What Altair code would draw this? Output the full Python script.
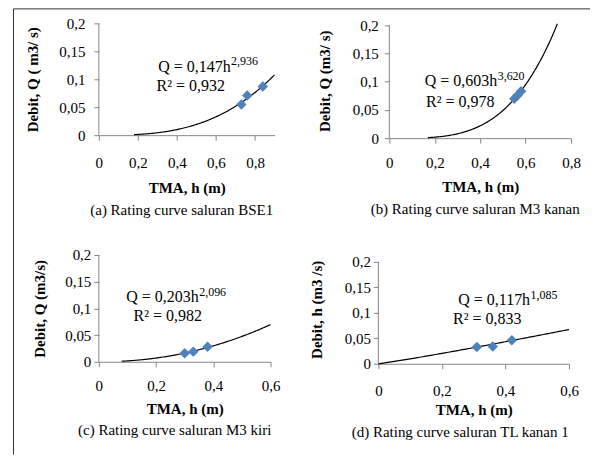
import altair as alt
import pandas as pd

FONT = "Liberation Serif"
BLUE = "#4F81BD"
AXIS_GRAY = "#868686"

# ---- data ----
a_h = [0.73, 0.76, 0.84]
a_q = [0.055, 0.071, 0.087]
b_h = [0.55, 0.565, 0.58]
b_q = [0.070, 0.076, 0.083]
c_h = [0.30, 0.33, 0.38]
c_q = [0.016, 0.019, 0.028]
d_h = [0.31, 0.36, 0.42]
d_q = [0.033, 0.034, 0.046]

coef = [0.147, 0.603, 0.203, 0.117]
expo = [2.936, 3.620, 2.096, 1.085]
curve_start = [0.18, 0.17, 0.08, 0.0]
curve_end = [0.90, 0.74, 0.60, 0.60]

eq_main = ["Q = 0,147h", "Q = 0,603h", "Q = 0,203h", "Q = 0,117h"]
eq_sup = ["2,936", "3,620", "2,096", "1,085"]
r2_text = ["R² = 0,932", "R² = 0,978", "R² = 0,982", "R² = 0,833"]

x_max = [0.9, 0.8, 0.6, 0.6]
x_ticks = [[0, 0.2, 0.4, 0.6, 0.8], [0, 0.2, 0.4, 0.6, 0.8],
           [0, 0.2, 0.4, 0.6], [0, 0.2, 0.4, 0.6]]
y_ticks = [0, 0.05, 0.1, 0.15, 0.2]
y_top = 0.2
y_titles = ["Debit, Q ( m3/ s)", "Debit, Q (m3/ s)", "Debit, Q (m3/s)", "Debit, h (m3 /s)"]
x_title = "TMA, h (m)"
captions = ["(a) Rating curve saluran BSE1", "(b) Rating curve saluran M3 kanan",
            "(c) Rating curve saluran M3 kiri", "(d) Rating curve saluran TL kanan 1"]

# ---- layout / style (pixels) ----
W = [176, 182, 172, 191]
Hgt = [112, 115, 107, 109]
y_dom_max = [0.2, 0.2035, 0.2, 0.2137]
x_label_pad = [15, 12, 12, 15]
x_title_pad = [10, 9, 8, 4]
y_label_pad = [9, 6, 3, 3]
y_title_pad = [18, 20, 17, 20]
cap_pos = [(83, 187), (86, 186), (76, 175), (82, 177)]  # caption center, relative to plot origin
eq_pos = [  # (Q right x, Q y, sup y, R2 center x, R2 y) relative to plot origin
    (132, 44, 38, 92, 63),
    (108, 58, 53, 71, 79),
    (100, 42, 37, 69, 61),
    (152, 45, 40, 109, 64),
]

LBL = "replace(toString(datum.value), '.', ',')"

pts_h = [a_h, b_h, c_h, d_h]
pts_q = [a_q, b_q, c_q, d_q]


def text_layer(s, x, y, size, align="center", weight="normal"):
    return alt.Chart(pd.DataFrame({"t": [s]})).mark_text(
        align=align, baseline="middle", font=FONT, fontSize=size, fontWeight=weight,
        color="black").encode(x=alt.value(x), y=alt.value(y), text="t:N")


def panel(i, frame=False):
    xs = alt.Scale(domain=[0, x_max[i]], nice=False, zero=True)
    ys = alt.Scale(domain=[0, y_dom_max[i]], nice=False, zero=True)
    X = alt.X("h:Q", scale=xs, title=x_title,
              axis=alt.Axis(values=x_ticks[i], labelExpr=LBL, labelPadding=x_label_pad[i],
                            titlePadding=x_title_pad[i], grid=False))
    Y = alt.Y("Q:Q", scale=ys, title=y_titles[i],
              axis=alt.Axis(values=y_ticks, labelExpr=LBL, labelPadding=y_label_pad[i],
                            titlePadding=y_title_pad[i], domain=False, grid=False))

    yline = alt.Chart(pd.DataFrame({"h": [0], "Q": [0], "Q2": [y_top]})).mark_rule(
        color=AXIS_GRAY, strokeWidth=1).encode(x=X, y=Y, y2="Q2:Q")

    curve = alt.Chart(alt.sequence(curve_start[i], curve_end[i] + 0.0025, 0.005, as_="h")).transform_calculate(
        Q=f"{coef[i]} * pow(datum.h, {expo[i]})"
    ).mark_line(color="black", strokeWidth=1.2).encode(x=X, y=Y)

    pts = alt.Chart(pd.DataFrame({"h": pts_h[i], "Q": pts_q[i]})).mark_point(
        shape="diamond", filled=True, size=110, color=BLUE, opacity=1).encode(x=X, y=Y)

    qx, qy, sy, rx, ry = eq_pos[i]
    cx, cy = cap_pos[i]
    layers = [
        yline, curve, pts,
        text_layer(eq_main[i], qx, qy, 16, align="right"),
        text_layer(eq_sup[i], qx + 0.5, sy, 12, align="left"),
        text_layer(r2_text[i], rx, ry, 16),
        text_layer(captions[i], cx, cy, 15),
    ]
    if frame:
        fr = pd.DataFrame({"k": [0]})
        top = alt.Chart(fr).mark_rule(color="#333333", strokeWidth=1).encode(
            x=alt.value(-85.5), x2=alt.value(492), y=alt.value(-14.5))
        left = alt.Chart(fr).mark_rule(color="#333333", strokeWidth=1).encode(
            x=alt.value(-85.5), y=alt.value(-14.5), y2=alt.value(432))
        layers += [top, left]

    return alt.layer(*layers).properties(width=W[i], height=Hgt[i])


row1 = alt.hconcat(panel(0, frame=True), panel(1), spacing=115, bounds="flush")
row2 = alt.hconcat(panel(2), panel(3), spacing=108, bounds="flush")
chart = alt.vconcat(row1, row2, spacing=232, bounds="flush").properties(
    padding={"left": 5, "top": 0, "right": 0, "bottom": 0},
    background="white",
).configure_view(stroke=None).configure_axis(
    labelFont=FONT, labelFontSize=15, labelColor="black", labelFlush=False, labelOverlap=False,
    titleFont=FONT, titleFontSize=15, titleFontWeight="bold", titleColor="black",
    domainColor=AXIS_GRAY, tickColor=AXIS_GRAY, tickSize=5, domainWidth=1, tickWidth=1
)

chart.save("out.html", embed_options={"renderer": "svg", "actions": False})
